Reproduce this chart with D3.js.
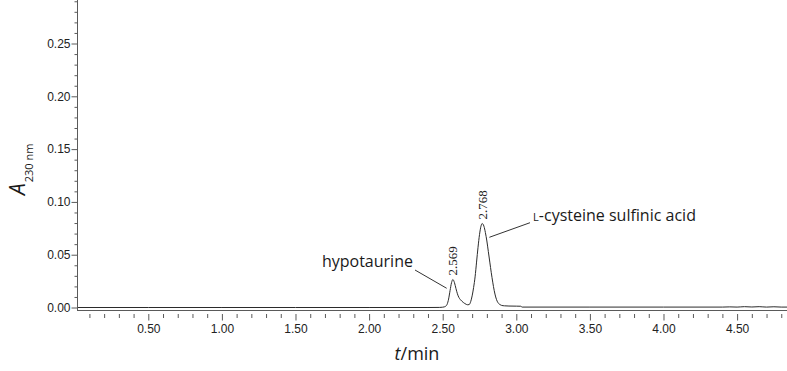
<!DOCTYPE html>
<html>
<head>
<meta charset="utf-8">
<script src="https://cdn.jsdelivr.net/npm/d3@7/dist/d3.min.js"></script>
<style>
  html, body { margin: 0; padding: 0; background: #fff; }
  svg { display: block; }
</style>
</head>
<body>
<svg id="chart" width="787" height="371"></svg>
<script>
// ---- data ----
const timeMin = [0.022, 0.5, 1.0, 1.5, 2.0, 2.40, 2.48, 2.50, 2.51, 2.52, 2.53, 2.54, 2.55, 2.56, 2.569,
  2.58, 2.59, 2.60, 2.61, 2.62, 2.63, 2.64, 2.65, 2.66, 2.67, 2.68, 2.69, 2.70, 2.71, 2.72, 2.73, 2.74,
  2.75, 2.76, 2.768, 2.78, 2.79, 2.80, 2.81, 2.82, 2.83, 2.84, 2.85, 2.86, 2.87, 2.88, 2.89, 2.90, 2.92,
  2.95, 3.00, 3.03, 3.04, 3.5, 4.0, 4.4, 4.45, 4.5, 4.55, 4.6, 4.65, 4.7, 4.75, 4.8, 4.839];
const absorbance = [0, 0, 0, 0, 0, 0, 0.0001, 0.0003, 0.0006, 0.0012, 0.003, 0.008, 0.016, 0.0235, 0.0265,
  0.0235, 0.018, 0.013, 0.0095, 0.0075, 0.006, 0.0048, 0.0038, 0.003, 0.0026, 0.0028, 0.0055, 0.011, 0.019,
  0.029, 0.043, 0.057, 0.069, 0.077, 0.0795, 0.077, 0.071, 0.063, 0.053, 0.043, 0.033, 0.024, 0.016, 0.010,
  0.006, 0.0038, 0.0027, 0.002, 0.0016, 0.0014, 0.0013, 0.0012, 0.0004, 0.0004, 0.0004, 0.0004, 0.0006,
  0.0004, 0.0008, 0.0005, 0.0008, 0.0004, 0.0007, 0.0004, 0.0004];

const xMajorTicks = [0.5, 1.0, 1.5, 2.0, 2.5, 3.0, 3.5, 4.0, 4.5];
const xMinorTicks = [0.1,0.2,0.3,0.4,0.6,0.7,0.8,0.9,1.1,1.2,1.3,1.4,1.6,1.7,1.8,1.9,2.1,2.2,2.3,2.4,
  2.6,2.7,2.8,2.9,3.1,3.2,3.3,3.4,3.6,3.7,3.8,3.9,4.1,4.2,4.3,4.4,4.6,4.7,4.8];
const yMajorTicks = [0.00, 0.05, 0.10, 0.15, 0.20, 0.25];
const yMinorTicks = [0.01,0.02,0.03,0.04,0.06,0.07,0.08,0.09,0.11,0.12,0.13,0.14,0.16,0.17,0.18,0.19,
  0.21,0.22,0.23,0.24,0.26,0.27,0.28,0.29];

// peak labels
const peakTimes = [2.569, 2.768];
const peakHeights = [0.0265, 0.0795];
const peakLabels = ["2.569", "2.768"];

// compound annotations: text anchor + leader line (data coords)
const compoundNames = ["hypotaurine", "cysteine sulfinic acid"];
const compoundPrefix = ["", "L"];
const compoundTextT = [2.298, 3.114];
const compoundTextV = [0.0385, 0.0820];
const compoundAnchor = ["end", "start"];
const leaderFromT = [2.312, 3.093];
const leaderFromV = [0.0355, 0.0803];
const leaderToT = [2.527, 2.817];
const leaderToV = [0.0182, 0.0665];

// ---- drawing ----
const svg = d3.select("#chart");
const x = d3.scaleLinear().domain([0, 4.839]).range([74.7, 787]);
const y = d3.scaleLinear().domain([-0.0033, 0.2912]).range([311, 0]);

const axisColor = "#5a5a5a";
const axisX0 = 77.5;
const axisY0 = 310.5;
const tickFont = "'Liberation Sans', Arial, sans-serif";

function styleAxis(g) {
  g.attr("font-family", tickFont).attr("font-size", 12);
  g.select(".domain").remove();
  g.selectAll("line").attr("stroke", axisColor);
  g.selectAll("text").attr("fill", "#222");
}

// y-axis
const yMajor = svg.append("g").attr("transform", `translate(${axisX0},0)`)
  .call(d3.axisLeft(y).tickValues(yMajorTicks).tickSize(6).tickPadding(1).tickFormat(d3.format(".2f")));
const yMinor = svg.append("g").attr("transform", `translate(${axisX0},0)`)
  .call(d3.axisLeft(y).tickValues(yMinorTicks).tickSize(3).tickFormat(""));
styleAxis(yMajor); styleAxis(yMinor);
svg.append("line").attr("x1", axisX0).attr("x2", axisX0).attr("y1", 0).attr("y2", axisY0 + 0.5)
  .attr("stroke", axisColor).attr("stroke-width", 1);

// x-axis (ticks sit slightly below the axis line)
const tickTop = 314;
const xMajor = svg.append("g").attr("transform", `translate(0,${tickTop})`)
  .call(d3.axisBottom(x).tickValues(xMajorTicks).tickSize(6.5).tickPadding(4).tickFormat(d3.format(".2f")));
const xMinor = svg.append("g").attr("transform", `translate(0,${tickTop})`)
  .call(d3.axisBottom(x).tickValues(xMinorTicks).tickSize(4).tickFormat(""));
styleAxis(xMajor); styleAxis(xMinor);
svg.append("line").attr("x1", axisX0).attr("x2", 787).attr("y1", axisY0).attr("y2", axisY0)
  .attr("stroke", axisColor).attr("stroke-width", 1);

// trace
const pts = timeMin.map((t, i) => [t, absorbance[i]]);
svg.append("path")
  .datum(pts)
  .attr("fill", "none")
  .attr("stroke", "#2b2b2b")
  .attr("stroke-width", 1)
  .attr("d", d3.line().x(d => x(d[0])).y(d => y(d[1])).curve(d3.curveMonotoneX));

// peak retention-time labels (rotated, serif)
peakTimes.forEach((t, i) => {
  const px = x(t) + 4.5, py = y(peakHeights[i]) - 4;
  svg.append("text")
    .attr("transform", `translate(${px},${py}) rotate(-90)`)
    .attr("text-anchor", "start")
    .style("font-family", "'Liberation Serif', 'Times New Roman', serif")
    .style("font-size", "13px")
    .attr("fill", "#222")
    .text(peakLabels[i]);
});

// compound annotations
compoundNames.forEach((name, i) => {
  svg.append("line")
    .attr("x1", x(leaderFromT[i])).attr("y1", y(leaderFromV[i]))
    .attr("x2", x(leaderToT[i])).attr("y2", y(leaderToV[i]))
    .attr("stroke", "#333").attr("stroke-width", 1);
  const txt = svg.append("text")
    .attr("x", x(compoundTextT[i])).attr("y", y(compoundTextV[i]))
    .attr("text-anchor", compoundAnchor[i])
    .style("font-family", "'Open Sans', 'Noto Sans', sans-serif")
    .style("font-size", "16px")
    .attr("fill", "#1a1a1a");
  if (compoundPrefix[i]) {
    txt.append("tspan").style("font-size", "11px").text(compoundPrefix[i]);
    txt.append("tspan").text("-" + name);
  } else {
    txt.text(name);
  }
});

// y-axis title: A_230 nm
const yt = svg.append("text")
  .attr("transform", "translate(25,195) rotate(-90)")
  .attr("text-anchor", "start")
  .style("font-family", "'Open Sans', 'Noto Sans', sans-serif")
  .attr("fill", "#1a1a1a");
yt.append("tspan").style("font-size", "21px").style("font-style", "italic").text("A");
yt.append("tspan").attr("dy", 8).attr("dx", 1).style("font-size", "11px").text("230 nm");

// x-axis title: t/min
const xt = svg.append("text")
  .attr("x", 417).attr("y", 360)
  .attr("text-anchor", "middle")
  .style("font-family", "'Open Sans', 'Noto Sans', sans-serif")
  .style("font-size", "18px")
  .attr("fill", "#1a1a1a");
xt.append("tspan").style("font-style", "italic").text("t");
xt.append("tspan").text("/min");
</script>
</body>
</html>
